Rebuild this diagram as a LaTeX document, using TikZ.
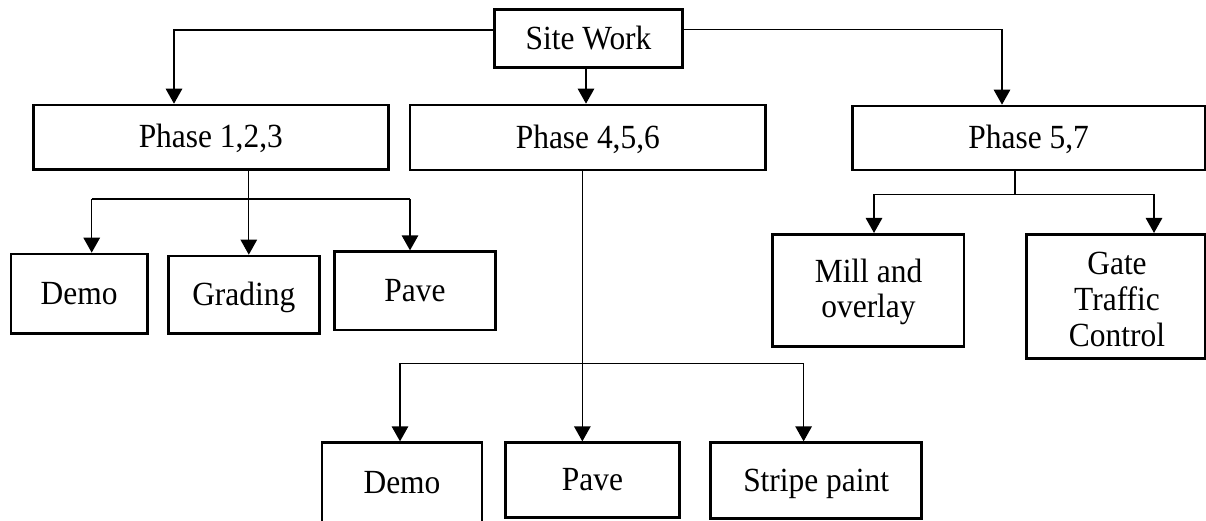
\documentclass[tikz,border=0pt]{standalone}
\usepackage{fontspec}
\setmainfont{Liberation Serif}[FakeStretch=0.93]
\usetikzlibrary{arrows.meta}
\begin{document}
\begin{tikzpicture}[x=1pt,y=-1pt,
  font=\fontsize{33.8}{37}\selectfont,
  box/.style={draw, line width=2.7pt, inner sep=0pt, text height=21.5pt, text depth=0pt},
  txt/.style={inner sep=0pt},
  link/.style={line width=1.3pt},
  arr/.style={link, -{Triangle[length=15pt,width=16.5pt]}}]
\useasboundingbox[fill=white] (0,0) rectangle (1206,520);

% top level
\node[box, minimum width=188.4pt, minimum height=58.4pt] (site) at (588.5,38.5) {Site Work\hspace{17pt}};

% phases
\node[box, minimum width=355pt, minimum height=64.3pt] (p1) at (210.8,137.2) {Phase 1,2,3};
\node[box, minimum width=355.7pt, minimum height=65pt] (p4) at (587.85,137.5) {Phase 4,5,6};
\node[box, minimum width=352.7pt, minimum height=64pt] (p5) at (1028.65,138) {Phase 5,7};

% tasks of phase 1,2,3
\node[box, minimum width=136.3pt, minimum height=79.3pt] (demoa) at (79.15,293.65) {Demo};
\node[box, minimum width=151pt, minimum height=77.3pt] (grad) at (243.8,294.65) {Grading};
\node[box, minimum width=161.3pt, minimum height=78.3pt] (pavea) at (414.95,290.85) {Pave};

% tasks of phase 4,5,6
\node[box, minimum width=160pt, minimum height=79.3pt] (demob) at (402,482.35) {Demo};
\node[box, minimum width=174.2pt, minimum height=74.6pt] (paveb) at (592.5,480) {Pave};
\node[box, minimum width=210.9pt, minimum height=75.6pt] (stripe) at (816.15,480.5) {Stripe paint};

% tasks of phase 5,7
\node[box, minimum width=191.5pt, minimum height=112.4pt] (mill) at (868.25,290.5) {};
\node[txt, anchor=base] (mill1) at (868.5,282.7) {Mill and};
\node[txt, anchor=base] (mill2) at (868.5,317.7) {overlay};
\node[box, minimum width=178.3pt, minimum height=124pt] (gate) at (1115.85,296.3) {};
\node[txt, anchor=base] (gate1) at (1117,274) {Gate};
\node[txt, anchor=base] (gate2) at (1117,310) {Traffic};
\node[txt, anchor=base] (gate3) at (1117,346) {Control};

% site work to phases
\draw[arr] ([yshift=8.5pt]site.west) -| ([xshift=-36.8pt]p1.north);
\draw[arr] ([xshift=-2.5pt]site.south) -- ([xshift=-2.5pt]site.south |- p4.north);
\draw[arr] ([yshift=9.2pt]site.east) -| ([xshift=-26.65pt]p5.north);

% phase 1,2,3 branches
\coordinate (p1drop) at ([xshift=38pt]p1.south);
\coordinate (b1l) at (91.7,199);
\coordinate (b1r) at (410,199);
\draw[arr] (p1drop) -- (p1drop |- grad.north);
\draw[link] (b1l) -- (b1r);
\draw[arr] (b1l) -- (b1l |- demoa.north);
\draw[arr] (b1r) -- (b1r |- pavea.north);

% phase 4,5,6 branches
\coordinate (p4drop) at ([xshift=-5.5pt]p4.south);
\coordinate (b4l) at (400,363.3);
\coordinate (b4r) at (803.6,363.3);
\draw[arr] (p4drop) -- (p4drop |- paveb.north);
\draw[link] (b4l) -- (b4r);
\draw[arr] (b4l) -- (b4l |- demob.north);
\draw[arr] (b4r) -- (b4r |- stripe.north);

% phase 5,7 branches
\coordinate (p5drop) at ([xshift=-13.65pt]p5.south);
\coordinate (b5l) at (874,194.3);
\coordinate (b5r) at (1154,194.3);
\draw[link] (p5drop) -- (p5drop |- b5l);
\draw[link] (b5l) -- (b5r);
\draw[arr] (b5l) -- (b5l |- mill.north);
\draw[arr] (b5r) -- (b5r |- gate.north);
\end{tikzpicture}
\end{document}
